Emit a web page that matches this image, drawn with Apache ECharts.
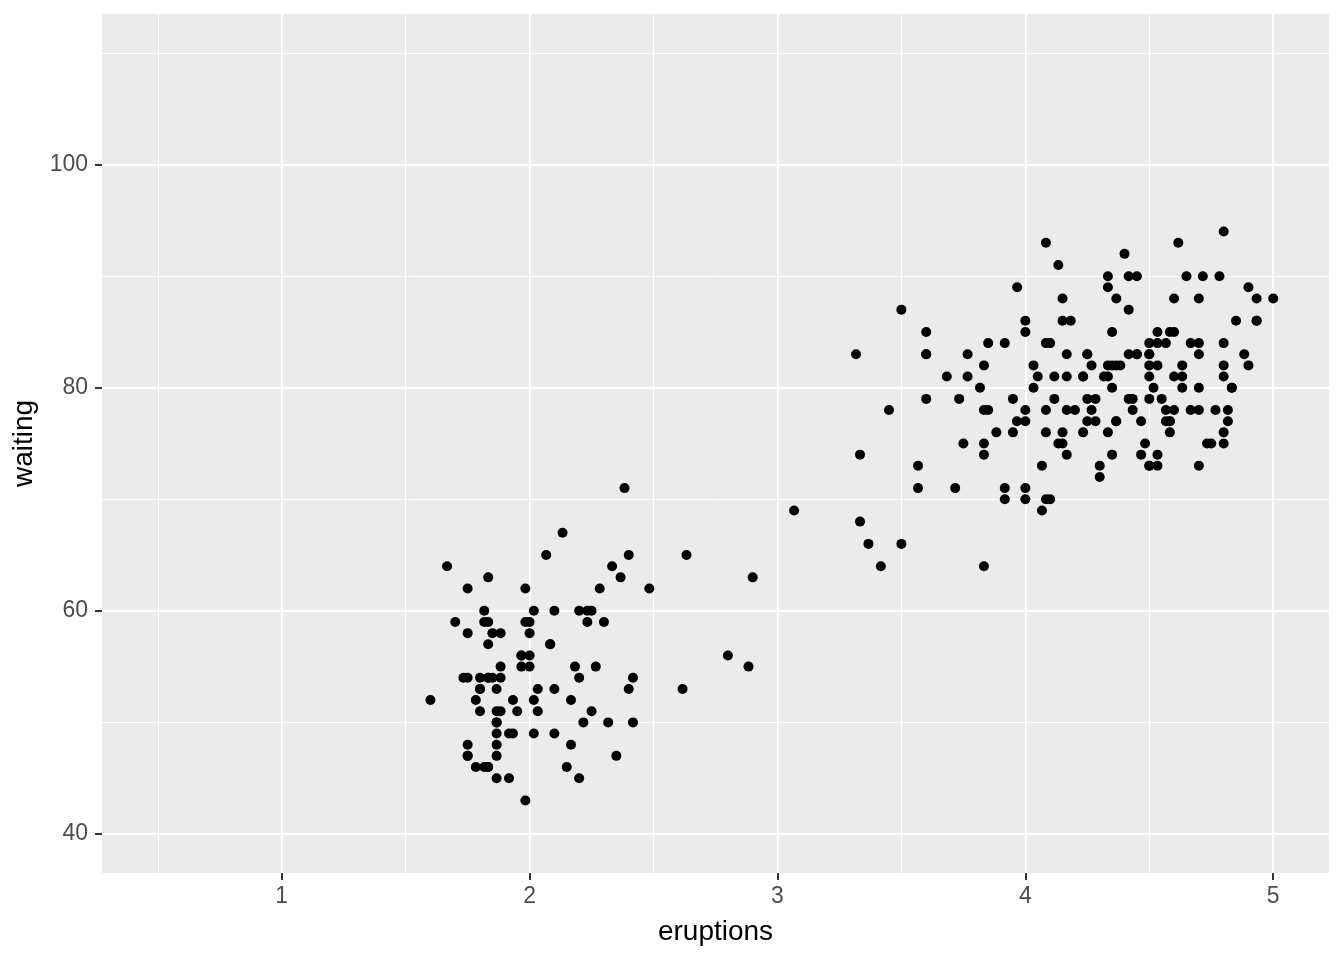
<!DOCTYPE html>
<html>
<head>
<meta charset="utf-8">
<script src="https://cdn.jsdelivr.net/npm/echarts@6/dist/echarts.min.js"></script>
<style>html,body{margin:0;padding:0;background:#fff;}#chart{width:1344px;height:960px;}</style>
</head>
<body>
<div id="chart"></div>
<script>
// Old Faithful data as shown (points with eruptions > 5 fall outside the plotted range)
const eruptions = [3.600,1.800,3.333,2.283,4.533,2.883,4.700,3.600,1.950,4.350,1.833,3.917,4.200,1.750,4.700,2.167,1.750,4.800,1.600,4.250,1.800,1.750,3.450,3.067,4.533,3.600,1.967,4.083,3.850,4.433,4.300,4.467,3.367,4.033,3.833,2.017,1.867,4.833,1.833,4.783,4.350,1.883,4.567,1.750,4.533,3.317,3.833,2.100,4.633,2.000,4.800,4.716,1.833,4.833,1.733,4.883,3.717,1.667,4.567,4.317,2.233,4.500,1.750,4.800,1.817,4.400,4.167,4.700,2.067,4.700,4.033,1.967,4.500,4.000,1.983,2.017,4.567,3.883,3.600,4.133,4.333,4.100,2.633,4.067,4.933,3.950,4.517,2.167,4.000,2.200,4.333,1.867,4.817,1.833,4.300,4.667,3.750,1.867,4.900,2.483,4.367,2.100,4.500,4.050,1.867,4.700,1.783,4.850,3.683,4.733,2.300,4.900,4.417,1.700,4.633,2.317,4.600,1.817,4.417,2.617,4.067,4.250,1.967,4.600,3.767,1.917,4.500,2.267,4.650,1.867,4.167,2.800,4.333,1.833,4.383,1.883,4.933,2.033,3.733,4.233,2.233,4.533,4.817,4.333,1.983,4.633,2.017,1.800,4.000,2.400,4.600,3.567,4.000,4.500,4.083,1.800,3.967,2.200,4.150,2.000,3.833,3.500,4.583,2.367,5.000,1.933,4.617,1.917,2.083,4.583,3.333,4.167,4.333,4.500,2.417,4.000,4.167,1.883,4.583,4.250,3.767,2.033,4.433,4.083,1.833,4.417,2.183,4.800,1.833,4.800,4.100,3.966,4.233,3.500,4.366,2.250,4.667,2.100,4.350,4.133,1.867,4.600,1.783,4.367,3.850,1.933,4.500,2.383,4.700,1.867,3.833,3.417,4.233,2.400,4.800,2.000,4.150,1.867,4.267,1.750,4.483,4.000,4.117,4.083,4.267,3.917,4.550,4.083,2.417,4.183,2.217,4.450,1.883,1.850,4.283,3.950,2.333,4.150,2.350,4.933,2.900,4.583,3.833,2.083,4.367,2.133,4.350,2.200,4.450,3.567,4.500,4.150,3.817,3.917,4.450,2.000,4.283,4.767,4.533,1.850,4.250,1.983,2.250,4.750,4.117,2.150,4.417,1.817,4.467];
const waiting = [79,54,74,62,85,55,88,85,51,85,54,84,78,47,83,52,62,84,52,79,51,47,78,69,74,83,55,76,78,79,73,77,66,80,74,52,48,80,59,90,80,58,84,58,73,83,64,53,82,59,75,90,54,80,54,83,71,64,77,81,59,84,48,82,60,92,78,78,65,73,82,56,79,71,62,60,78,76,83,75,82,70,65,73,88,76,80,48,86,60,90,50,78,63,72,84,75,51,82,62,88,49,83,81,47,84,52,86,81,75,59,89,79,59,81,50,85,59,87,53,69,77,56,88,81,45,82,55,90,45,83,56,89,46,82,51,86,53,79,81,60,82,77,76,59,80,49,53,77,65,81,71,70,81,93,53,89,45,86,58,78,66,76,63,88,52,93,49,57,77,68,81,81,73,50,85,74,55,77,83,83,51,78,84,46,83,55,81,57,76,84,77,81,87,77,51,78,60,82,91,53,78,46,77,84,49,83,71,80,49,75,64,76,53,94,55,76,50,82,54,75,78,79,78,78,70,79,70,54,86,50,90,54,54,77,79,64,75,47,86,63,85,82,57,82,67,74,54,83,73,73,88,80,71,83,56,79,78,84,58,83,43,60,75,81,46,90,46,74];
const xTicks = [1, 2, 3, 4, 5];
const yTicks = [40, 60, 80, 100];
const xTitle = 'eruptions';
const yTitle = 'waiting';

const points = eruptions.map((e, i) => [e, waiting[i]]);
const FONT = '"Liberation Sans", Arial, sans-serif';

const chart = echarts.init(document.getElementById('chart'), null, { renderer: 'canvas' });
chart.setOption({
  animation: false,
  backgroundColor: '#ffffff',
  grid: {
    left: 102, right: 15, top: 14, bottom: 87,
    show: true, backgroundColor: '#EBEBEB', borderWidth: 0,
    containLabel: false, outerBoundsMode: 'none'
  },
  xAxis: {
    type: 'value', min: 0.275, max: 5.225, splitNumber: 5,
    name: xTitle, nameLocation: 'middle', nameGap: 45,
    nameTextStyle: { fontFamily: FONT, fontSize: 28, color: '#000000' },
    axisLine: { show: false },
    axisTick: { show: true, length: 7, customValues: xTicks, lineStyle: { color: '#333333', width: 2 } },
    axisLabel: { customValues: xTicks, margin: 12, fontFamily: FONT, fontSize: 23, color: '#4D4D4D' },
    splitLine: { show: true, lineStyle: { color: '#FFFFFF', width: 2 } },
    minorTick: { show: false, splitNumber: 2 },
    minorSplitLine: { show: true, lineStyle: { color: '#FFFFFF', width: 1 } }
  },
  yAxis: {
    type: 'value', min: 36.5, max: 113.5, splitNumber: 4,
    name: yTitle, nameLocation: 'middle', nameGap: 48,
    nameTextStyle: { fontFamily: FONT, fontSize: 28, color: '#000000' },
    axisLine: { show: false },
    axisTick: { show: true, length: 7, customValues: yTicks, lineStyle: { color: '#333333', width: 2 } },
    axisLabel: { customValues: yTicks, margin: 14, fontFamily: FONT, fontSize: 23, color: '#4D4D4D' },
    splitLine: { show: true, lineStyle: { color: '#FFFFFF', width: 2 } },
    minorTick: { show: false, splitNumber: 2 },
    minorSplitLine: { show: true, lineStyle: { color: '#FFFFFF', width: 1 } }
  },
  series: [{
    type: 'scatter',
    data: points,
    symbol: 'circle',
    symbolSize: 10,
    itemStyle: { color: '#000000', opacity: 1 },
    emphasis: { disabled: true },
    silent: true
  }]
});
</script>
</body>
</html>
